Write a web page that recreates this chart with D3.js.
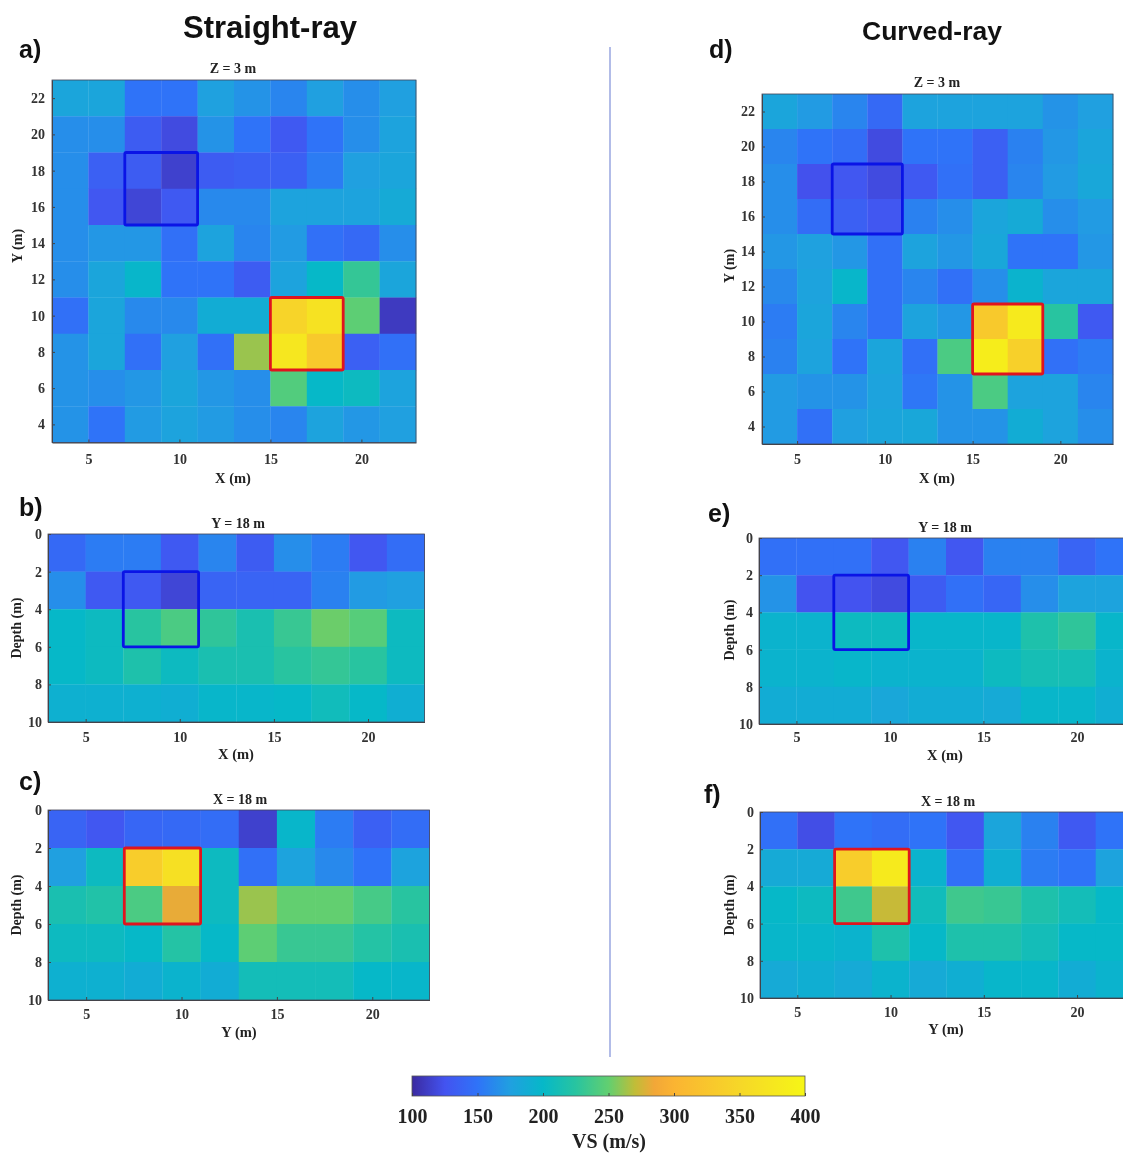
<!DOCTYPE html>
<html>
<head>
<meta charset="utf-8">
<script src="https://d3js.org/d3.v7.min.js"></script>
<style>
html, body { margin: 0; padding: 0; background: #fff; overflow: hidden; }
svg { filter: blur(0.45px); }
text { fill: #222; }
.serif { font-family: "Liberation Serif", serif; font-weight: bold; }
.sans { font-family: "Liberation Sans", sans-serif; font-weight: bold; fill: #111; }
</style>
</head>
<body>
<script>
var width = 1123;
var height = 1153;

// cell centres (m)
var xCells = [4, 6, 8, 10, 12, 14, 16, 18, 20, 22];
var yCells = [22, 20, 18, 16, 14, 12, 10, 8, 6, 4];
var depthCells = [1, 3, 5, 7, 9];

var xTicks = [5, 10, 15, 20];
var yTicks = [4, 6, 8, 10, 12, 14, 16, 18, 20, 22];
var depthTicks = [0, 2, 4, 6, 8, 10];
var barTicks = [100, 150, 200, 250, 300, 350, 400];

// VS values, rows top to bottom
var valuesA = [
  [180,180,150,150,176,168,160,175,165,175],
  [165,165,132,120,168,150,130,150,165,178],
  [165,135,132,114,132,135,135,155,175,180],
  [165,128,117,130,162,162,178,178,178,185],
  [165,170,170,148,178,160,172,148,142,165],
  [165,180,198,150,150,132,178,200,230,180],
  [148,180,162,162,188,188,345,368,248,110],
  [168,180,148,175,148,262,375,330,135,148],
  [168,165,170,180,170,165,243,200,205,178],
  [168,150,172,178,172,165,160,178,170,175]
];
var valuesB = [
  [142,155,155,130,160,132,165,155,128,145],
  [165,130,130,117,138,138,138,158,172,175],
  [200,205,225,240,228,215,232,252,245,205],
  [200,205,218,205,215,215,225,230,225,205],
  [192,192,192,190,198,198,200,208,200,190]
];
var valuesC = [
  [138,128,140,142,145,114,198,155,135,145],
  [175,205,335,365,205,148,178,162,150,178],
  [215,220,240,282,205,262,250,250,238,225],
  [205,205,200,222,200,248,232,232,222,215],
  [192,192,188,195,188,210,210,210,200,198]
];
var valuesD = [
  [180,172,160,142,178,178,178,178,168,175],
  [160,150,145,120,150,150,135,158,170,180],
  [165,124,128,120,130,148,135,160,172,182],
  [165,145,135,128,158,165,180,185,165,172],
  [170,176,170,148,178,170,182,150,150,170],
  [162,178,198,148,160,148,165,195,180,180],
  [155,180,160,148,178,170,330,380,225,130],
  [158,178,150,180,148,240,385,340,148,155],
  [172,168,168,178,152,168,240,178,178,160],
  [172,148,175,180,182,168,168,188,178,165]
];
var valuesE = [
  [148,148,148,128,158,128,158,158,138,150],
  [168,125,125,120,132,148,140,165,178,178],
  [195,195,205,205,198,198,198,218,228,198],
  [195,195,198,195,195,195,205,212,212,195],
  [188,188,188,182,188,188,185,198,198,190]
];
var valuesF = [
  [148,122,150,145,150,128,180,158,130,150],
  [185,185,335,380,195,148,190,155,150,178],
  [200,205,235,272,208,235,232,218,210,200],
  [198,198,195,218,200,218,218,210,200,200],
  [185,190,185,195,185,190,198,198,188,195]
];

// colormap of the bar
var cmapValues = [100, 125, 150, 175, 200, 225, 250, 270, 285, 300, 350, 400];
var cmapColors = ["#3b2aa0", "#4353f0", "#2f73f8", "#20a0e0", "#06b8c8", "#28c4a0",
                  "#62cf70", "#c0bd38", "#f2a738", "#fbb432", "#f6d728", "#f6f616"];

var color = d3.scaleLinear().domain(cmapValues).range(cmapColors).clamp(true);

var svg = d3.select("body")
            .append("svg")
            .attr("width", width)
            .attr("height", height);

function drawPanel(p) {
    var xScale = d3.scaleLinear().domain([3, 23]).range([p.left, p.right]);
    var yScale = d3.scaleLinear().domain(p.yDomain).range([p.top, p.bottom]);
    var g = svg.append("g").attr("class", "serif");

    // cells
    p.values.forEach(function(row, i) {
        g.selectAll(null)
         .data(row)
         .enter()
         .append("rect")
         .attr("x", function(d, j) { return xScale(xCells[j] - 1); })
         .attr("y", yScale(p.rows[i] + p.rowStep))
         .attr("width", function(d, j) { return xScale(xCells[j] + 1) - xScale(xCells[j] - 1) + 0.3; })
         .attr("height", Math.abs(yScale(p.rows[i] + 1) - yScale(p.rows[i] - 1)) + 0.3)
         .style("fill", function(d) { return color(d); });
    });

    // axes, ticks point inward like matlab
    var xAxis = d3.axisBottom(xScale).tickValues(xTicks).tickSizeInner(-3).tickSizeOuter(0).tickPadding(p.xPad);
    var yAxis = d3.axisLeft(yScale).tickValues(p.yTicks).tickSizeInner(-3).tickSizeOuter(0).tickPadding(p.yPad);
    var gx = g.append("g").attr("transform", "translate(0," + p.bottom + ")").call(xAxis);
    var gy = g.append("g").attr("transform", "translate(" + p.left + ",0)").call(yAxis);
    [gx, gy].forEach(function(a) {
        a.attr("font-family", null).attr("font-size", null);
        a.selectAll("text").style("font-size", "14px").style("fill", "#333");
        a.selectAll("line").style("stroke", "#444");
        a.select(".domain").style("stroke", "#444");
    });

    // frame
    g.append("rect")
     .attr("x", p.left).attr("y", p.top)
     .attr("width", p.right - p.left).attr("height", p.bottom - p.top)
     .style("fill", "none").style("stroke", "#445").style("stroke-width", 0.8);

    // anomaly boxes
    p.boxes.forEach(function(b) {
        g.append("rect")
         .attr("x", xScale(b.x0)).attr("y", yScale(b.y0))
         .attr("width", xScale(b.x1) - xScale(b.x0))
         .attr("height", yScale(b.y1) - yScale(b.y0))
         .attr("rx", 1.5)
         .style("fill", "none").style("stroke", b.color).style("stroke-width", 2.8);
    });

    g.append("text").attr("x", p.titleX).attr("y", p.titleY).attr("text-anchor", "middle")
     .style("font-size", "14px").text(p.title);
    g.append("text").attr("x", p.labelX).attr("y", p.labelY).attr("text-anchor", "middle")
     .style("font-size", "14.5px").text(p.xLabel);
    g.append("text").attr("transform", "translate(" + p.ylabelX + "," + p.ylabelY + ") rotate(-90)")
     .attr("text-anchor", "middle").style("font-size", "14px").text(p.yLabel);
}

var blueBoxXY = {x0: 7, x1: 11, y0: 19, y1: 15, color: "#0a14e6"};
var redBoxXY = {x0: 15, x1: 19, y0: 11, y1: 7, color: "#e0141e"};
var blueBoxXZ = {x0: 7, x1: 11, y0: 2, y1: 6, color: "#0a14e6"};
var redBoxYZ = {x0: 7, x1: 11, y0: 2, y1: 6, color: "#e0141e"};

drawPanel({values: valuesA, rows: yCells, rowStep: 1, yDomain: [23, 3], yTicks: yTicks,
    left: 52, right: 416, top: 80, bottom: 442.5, xPad: 11.5, yPad: 7,
    title: "Z = 3 m", titleX: 233, titleY: 73, xLabel: "X (m)", labelX: 233, labelY: 483,
    yLabel: "Y (m)", ylabelX: 22, ylabelY: 246, boxes: [blueBoxXY, redBoxXY]});
drawPanel({values: valuesB, rows: depthCells, rowStep: -1, yDomain: [0, 10], yTicks: depthTicks,
    left: 48, right: 424.5, top: 534, bottom: 722, xPad: 10, yPad: 6,
    title: "Y = 18 m", titleX: 238, titleY: 528, xLabel: "X (m)", labelX: 236, labelY: 759,
    yLabel: "Depth (m)", ylabelX: 21, ylabelY: 628, boxes: [blueBoxXZ]});
drawPanel({values: valuesC, rows: depthCells, rowStep: -1, yDomain: [0, 10], yTicks: depthTicks,
    left: 48, right: 429.5, top: 810, bottom: 1000, xPad: 9.5, yPad: 6,
    title: "X = 18 m", titleX: 240, titleY: 804, xLabel: "Y (m)", labelX: 239, labelY: 1037,
    yLabel: "Depth (m)", ylabelX: 21, ylabelY: 905, boxes: [redBoxYZ]});
drawPanel({values: valuesD, rows: yCells, rowStep: 1, yDomain: [23, 3], yTicks: yTicks,
    left: 762, right: 1113, top: 94, bottom: 444, xPad: 10, yPad: 7,
    title: "Z = 3 m", titleX: 937, titleY: 87, xLabel: "X (m)", labelX: 937, labelY: 483,
    yLabel: "Y (m)", ylabelX: 734, ylabelY: 266, boxes: [blueBoxXY, redBoxXY]});
drawPanel({values: valuesE, rows: depthCells, rowStep: -1, yDomain: [0, 10], yTicks: depthTicks,
    left: 759, right: 1133, top: 538, bottom: 724, xPad: 8.5, yPad: 6,
    title: "Y = 18 m", titleX: 945, titleY: 532, xLabel: "X (m)", labelX: 945, labelY: 760,
    yLabel: "Depth (m)", ylabelX: 734, ylabelY: 630, boxes: [blueBoxXZ]});
drawPanel({values: valuesF, rows: depthCells, rowStep: -1, yDomain: [0, 10], yTicks: depthTicks,
    left: 760, right: 1133, top: 812, bottom: 998, xPad: 9, yPad: 6,
    title: "X = 18 m", titleX: 948, titleY: 806, xLabel: "Y (m)", labelX: 946, labelY: 1034,
    yLabel: "Depth (m)", ylabelX: 734, ylabelY: 905, boxes: [redBoxYZ]});

// headings and panel letters
svg.append("text").attr("class", "sans").attr("x", 270).attr("y", 38).attr("text-anchor", "middle")
   .style("font-size", "31px").text("Straight-ray");
svg.append("text").attr("class", "sans").attr("x", 932).attr("y", 40).attr("text-anchor", "middle")
   .style("font-size", "26.5px").text("Curved-ray");

var letters = ["a)", "b)", "c)", "d)", "e)", "f)"];
var letterX = [19, 19, 19, 709, 708, 704];
var letterY = [58, 516, 790, 58, 522, 803];
svg.selectAll(".letter")
   .data(letters)
   .enter()
   .append("text")
   .attr("class", "sans letter")
   .attr("x", function(d, i) { return letterX[i]; })
   .attr("y", function(d, i) { return letterY[i]; })
   .style("font-size", "25px")
   .text(function(d) { return d; });

// divider
svg.append("line").attr("x1", 610).attr("x2", 610).attr("y1", 47).attr("y2", 1057)
   .style("stroke", "#7f8fd8").style("stroke-width", 1.2);

// colorbar
var barScale = d3.scaleLinear().domain([100, 400]).range([412, 805]);
var grad = svg.append("defs").append("linearGradient").attr("id", "vsGrad");
grad.selectAll("stop")
    .data(cmapValues)
    .enter()
    .append("stop")
    .attr("offset", function(d) { return (d - 100) / 300; })
    .attr("stop-color", function(d, i) { return cmapColors[i]; });

svg.append("rect").attr("x", barScale(100)).attr("y", 1076)
   .attr("width", barScale(400) - barScale(100)).attr("height", 20)
   .style("fill", "url(#vsGrad)").style("stroke", "#555").style("stroke-width", 0.8);

var barAxis = svg.append("g").attr("class", "serif")
   .attr("transform", "translate(0,1096)")
   .call(d3.axisBottom(barScale).tickValues(barTicks).tickSizeInner(-3).tickSizeOuter(0).tickPadding(13));
barAxis.attr("font-family", null).attr("font-size", null);
barAxis.select(".domain").remove();
barAxis.selectAll("line").style("stroke", "#444");
barAxis.selectAll("text").style("font-size", "20px").style("fill", "#222");

svg.append("text").attr("class", "serif").attr("x", 609).attr("y", 1148).attr("text-anchor", "middle")
   .style("font-size", "20px").text("VS (m/s)");
</script>
</body>
</html>
